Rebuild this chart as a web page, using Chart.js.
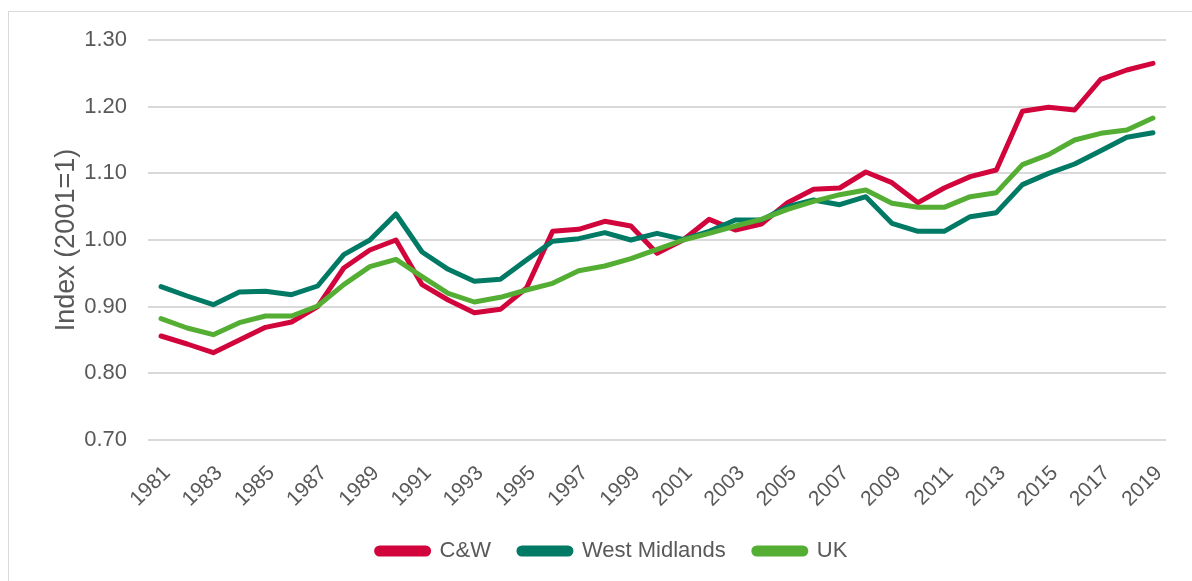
<!DOCTYPE html>
<html lang="en">

<head>
    <meta charset="UTF-8">
    <title>Index (2001=1)</title>
    <script src="https://cdn.jsdelivr.net/npm/chart.js"></script>
    <style>
        body { margin: 0; background: #fff; overflow: hidden; }
        #wrap { position: relative; width: 1192px; height: 581px; }
        #frame { position: absolute; left: 8px; top: 11px; width: 1200px; height: 600px; border: 1px solid #d9d9d9; }
    </style>
</head>

<body>
    <div id="wrap">
        <div id="frame"></div>
        <canvas id="myChart"></canvas>
    </div>

    <script>
        const years = ['1981', '1982', '1983', '1984', '1985', '1986', '1987', '1988', '1989', '1990',
            '1991', '1992', '1993', '1994', '1995', '1996', '1997', '1998', '1999', '2000',
            '2001', '2002', '2003', '2004', '2005', '2006', '2007', '2008', '2009', '2010',
            '2011', '2012', '2013', '2014', '2015', '2016', '2017', '2018', '2019'];

        const cwData = [0.856, 0.844, 0.831, 0.850, 0.869, 0.877, 0.900, 0.958, 0.985, 1.000,
            0.933, 0.910, 0.891, 0.896, 0.928, 1.013, 1.016, 1.028, 1.021, 0.980,
            1.000, 1.031, 1.015, 1.024, 1.056, 1.076, 1.078, 1.102, 1.086, 1.056,
            1.078, 1.095, 1.105, 1.193, 1.199, 1.195, 1.241, 1.255, 1.265];

        const westMidlandsData = [0.930, 0.916, 0.903, 0.922, 0.923, 0.918, 0.931, 0.978, 1.000, 1.039,
            0.982, 0.956, 0.938, 0.941, 0.970, 0.998, 1.002, 1.011, 1.000, 1.010,
            1.001, 1.013, 1.030, 1.030, 1.050, 1.060, 1.053, 1.065, 1.025, 1.013,
            1.013, 1.035, 1.041, 1.083, 1.100, 1.114, 1.134, 1.154, 1.161];

        const ukData = [0.882, 0.868, 0.858, 0.876, 0.886, 0.886, 0.901, 0.933, 0.960, 0.971,
            0.945, 0.920, 0.907, 0.914, 0.925, 0.935, 0.954, 0.961, 0.972, 0.986,
            1.000, 1.010, 1.021, 1.031, 1.046, 1.058, 1.068, 1.075, 1.055, 1.049,
            1.049, 1.065, 1.071, 1.113, 1.128, 1.150, 1.160, 1.165, 1.183];

        Chart.defaults.font.family = '"Liberation Sans", Arial, sans-serif';
        Chart.defaults.color = '#595959';

        // keep the legend short so the axis labels get the room
        const legendHeight = {
            id: 'legendHeight',
            beforeInit(chart) {
                const fit = chart.legend.fit;
                chart.legend.fit = function () {
                    fit.call(this);
                    this.height = 50;
                };
            }
        };

        const line = (label, data, color, order) => ({
            label: label,
            data: data,
            borderColor: color,
            backgroundColor: color,
            borderWidth: 5,
            pointRadius: 0,
            tension: 0,
            borderCapStyle: 'round',
            borderJoinStyle: 'round',
            fill: false,
            order: order
        });

        const ctx = document.getElementById('myChart').getContext('2d');
        const myChart = new Chart(ctx, {
            type: 'line',
            data: {
                labels: years,
                datasets: [
                    line('C&W', cwData, '#D2043C', 3),
                    line('West Midlands', westMidlandsData, '#007A64', 2),
                    line('UK', ukData, '#54AE33', 1)
                ]
            },
            options: {
                responsive: true,
                maintainAspectRatio: false,
                animation: false,
                layout: { padding: { left: 50, right: 18, top: 40, bottom: 19 } },
                plugins: {
                    tooltip: { enabled: false },
                    legend: {
                        position: 'bottom',
                        labels: {
                            boxWidth: 52,
                            boxHeight: 6,
                            useBorderRadius: true,
                            borderRadius: 3,
                            padding: 28,
                            color: '#595959',
                            font: { size: 22 },
                            sort: (a, b) => a.datasetIndex - b.datasetIndex
                        }
                    }
                },
                scales: {
                    x: {
                        offset: true,
                        afterFit: (scale) => { scale.height = 72; },
                        grid: { display: false, drawTicks: false, offset: false },
                        border: { display: false },
                        ticks: {
                            autoSkip: false,
                            maxRotation: 45,
                            minRotation: 45,
                            padding: 21,
                            labelOffset: 6,
                            font: { size: 21 },
                            callback: function (value, index) {
                                return index % 2 === 0 ? this.getLabelForValue(value) : '';
                            }
                        }
                    },
                    y: {
                        min: 0.7,
                        max: 1.3,
                        afterFit: (scale) => { scale.width = 98; },
                        grid: { color: '#d9d9d9', lineWidth: 2, drawTicks: false },
                        border: { display: false },
                        ticks: {
                            stepSize: 0.1,
                            padding: 21,
                            font: { size: 22 },
                            callback: (value) => value.toFixed(2)
                        },
                        title: {
                            display: true,
                            text: 'Index (2001=1)',
                            font: { size: 27 },
                            padding: { top: 0, bottom: 0 }
                        }
                    }
                }
            },
            plugins: [legendHeight]
        });
    </script>
</body>

</html>
